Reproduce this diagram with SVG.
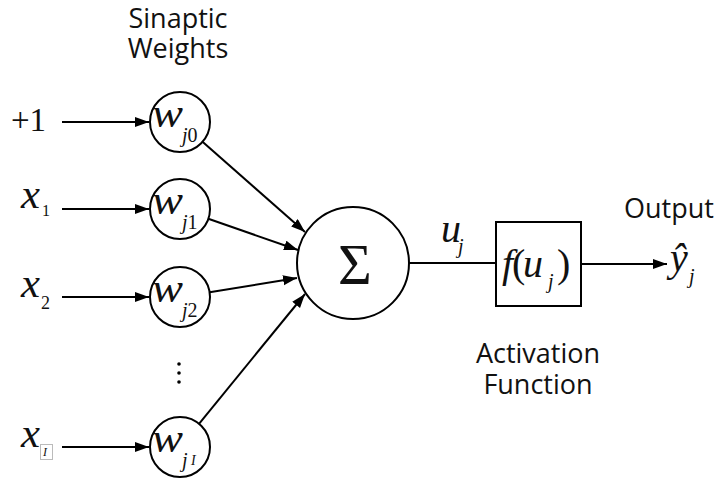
<svg xmlns="http://www.w3.org/2000/svg" width="719" height="479" viewBox="0 0 719 479">
<style>
.lbl{font-family:"Open Sans","Liberation Sans",sans-serif;font-size:27px;fill:#111}
.m{font-family:"Liberation Serif","Times New Roman",serif;font-style:italic;fill:#111}
.r{font-family:"Liberation Serif","Times New Roman",serif;fill:#111}
.up{font-style:normal}
.node{fill:#fff;stroke:#000;stroke-width:2}
.edge{stroke:#000;stroke-width:2;fill:none}
</style>
<defs>
<marker id="ah" markerUnits="userSpaceOnUse" markerWidth="15" markerHeight="11" refX="14" refY="5" orient="auto">
<path d="M0,0 L14,5 L0,10 Z" fill="#000"/>
</marker>
</defs>
<g id="labels">
<text class="lbl" x="178" y="28" text-anchor="middle">Sinaptic</text>
<text class="lbl" x="178" y="58" text-anchor="middle">Weights</text>
<text class="lbl" x="669" y="218" text-anchor="middle">Output</text>
<text class="lbl" x="538" y="363" text-anchor="middle">Activation</text>
<text class="lbl" x="538" y="394" text-anchor="middle">Function</text>
</g>
<g id="inputs">
<text class="r" x="11" y="131" font-size="33">+1</text>
<text class="m" font-size="40" y="208"><tspan x="21" textLength="19" lengthAdjust="spacingAndGlyphs">x</tspan><tspan class="up" x="42" dy="8" font-size="16">1</tspan></text>
<text class="m" font-size="40" y="297"><tspan x="21" textLength="19" lengthAdjust="spacingAndGlyphs">x</tspan><tspan class="up" x="41" dy="12" font-size="18">2</tspan></text>
<text class="m" x="21" y="447" font-size="40" textLength="19" lengthAdjust="spacingAndGlyphs">x</text>
<rect x="40.5" y="444.5" width="12" height="15" fill="none" stroke="#bbb" stroke-width="1"/>
<text class="m" x="43" y="456" font-size="12">I</text>
</g>
<g id="w_j0">
<circle class="node" cx="180" cy="122" r="30"/>
<text class="m" font-size="40" y="127"><tspan x="152" textLength="31" lengthAdjust="spacingAndGlyphs">w</tspan><tspan x="182" dy="15" font-size="20">j<tspan class="up">0</tspan></tspan></text>
</g>
<g id="w_j1">
<circle class="node" cx="180" cy="209" r="30"/>
<text class="m" font-size="40" y="214"><tspan x="152" textLength="31" lengthAdjust="spacingAndGlyphs">w</tspan><tspan x="182" dy="15" font-size="20">j<tspan class="up">1</tspan></tspan></text>
</g>
<g id="w_j2">
<circle class="node" cx="180" cy="297" r="30"/>
<text class="m" font-size="40" y="302"><tspan x="152" textLength="31" lengthAdjust="spacingAndGlyphs">w</tspan><tspan x="182" dy="15" font-size="20">j<tspan class="up">2</tspan></tspan></text>
</g>
<g id="dots">
<circle cx="179" cy="364" r="1.8" fill="#000"/>
<circle cx="179" cy="373" r="1.8" fill="#000"/>
<circle cx="179" cy="382" r="1.8" fill="#000"/>
</g>
<g id="w_jI">
<circle class="node" cx="180" cy="447" r="30"/>
<text class="m" font-size="40" y="452"><tspan x="152" textLength="31" lengthAdjust="spacingAndGlyphs">w</tspan><tspan x="182" dy="15" font-size="20">j</tspan><tspan x="191" dy="-2" font-size="14">I</tspan></text>
</g>
<g id="sum">
<circle class="node" cx="353" cy="263" r="56"/>
<text class="r" x="355" y="284" font-size="58" text-anchor="middle">Σ</text>
</g>
<g id="activation">
<rect class="node" x="496" y="222" width="85" height="84"/>
<text class="m" font-size="40" y="277"><tspan x="502">f</tspan><tspan class="up" x="512">(</tspan><tspan x="523">u</tspan><tspan x="548" dy="11" font-size="20">j</tspan><tspan class="up" x="557" dy="-11">)</tspan></text>
</g>
<g id="output">
<text class="m" font-size="40" y="271"><tspan x="670">ŷ</tspan><tspan x="689" dy="12" font-size="20">j</tspan></text>
</g>
<g id="uj">
<text class="m" font-size="40" y="242"><tspan x="441">u</tspan><tspan x="458" dy="11" font-size="20">j</tspan></text>
</g>
<g id="connectors">
<line class="edge" x1="62" y1="122" x2="149" y2="122" marker-end="url(#ah)"/>
<line class="edge" x1="62" y1="209" x2="149" y2="209" marker-end="url(#ah)"/>
<line class="edge" x1="62" y1="297" x2="149" y2="297" marker-end="url(#ah)"/>
<line class="edge" x1="62" y1="447" x2="149" y2="447" marker-end="url(#ah)"/>
<line class="edge" x1="202.5" y1="141.8" x2="305" y2="232" marker-end="url(#ah)"/>
<line class="edge" x1="208.3" y1="218.8" x2="298" y2="250" marker-end="url(#ah)"/>
<line class="edge" x1="209.6" y1="292.2" x2="297" y2="278" marker-end="url(#ah)"/>
<line class="edge" x1="199" y1="423.8" x2="305" y2="294" marker-end="url(#ah)"/>
<line class="edge" x1="409" y1="263" x2="496" y2="263"/>
<line class="edge" x1="581" y1="264" x2="667" y2="264" marker-end="url(#ah)"/>
</g>
</svg>
